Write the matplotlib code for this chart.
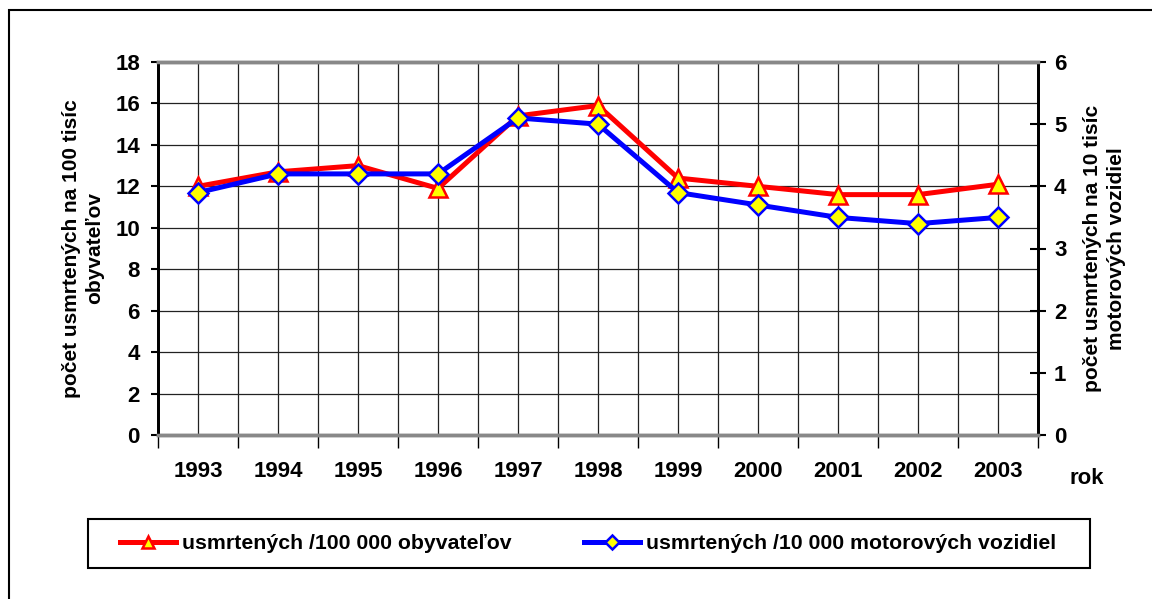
import matplotlib
matplotlib.use('Agg')
import matplotlib.pyplot as plt
from matplotlib.patches import Rectangle
import numpy as np

plt.rcParams['font.family'] = ['Liberation Sans', 'DejaVu Sans']
plt.rcParams['font.weight'] = 'bold'

roky = ['1993', '1994', '1995', '1996', '1997', '1998', '1999', '2000', '2001', '2002', '2003']
na_obyvatelov = [12.0, 12.7, 13.0, 11.9, 15.4, 15.9, 12.4, 12.0, 11.6, 11.6, 12.1]
na_vozidla = [3.9, 4.2, 4.2, 4.2, 5.1, 5.0, 3.9, 3.7, 3.5, 3.4, 3.5]

W, H = 1152, 599
fig = plt.figure(figsize=(W / 100, H / 100), dpi=100)
ax = fig.add_axes([158 / W, (H - 435) / H, 880 / W, 373 / H])
x = np.arange(len(roky))

# mriezka
ax.set_xlim(-0.5, len(roky) - 0.5)
ax.set_ylim(0, 18)
ax.set_yticks(range(0, 19, 2))
for gx in np.arange(-0.5, len(roky), 0.5):
    ax.axvline(gx, color='#222222', lw=0.9, zorder=1)
for gy in range(2, 18, 2):
    ax.axhline(gy, color='#222222', lw=0.9, zorder=1)

l1, = ax.plot(x, na_obyvatelov, color='#ff0000', lw=3.6, marker='^', ms=13,
              mfc='#ffff00', mec='#ff0000', mew=1.8, zorder=3)

ax2 = ax.twinx()
ax2.set_ylim(0, 6)
ax2.set_yticks(range(0, 7))
l2, = ax2.plot(x, na_vozidla, color='#0000ff', lw=3.6, marker='D', ms=10,
               mfc='#ffff00', mec='#0000ff', mew=1.8, zorder=3)

ax.set_xticks(x)
ax.set_xticklabels(roky)
ax.set_xticks(np.arange(-0.5, len(roky), 1), minor=True)
ax.tick_params(axis='x', which='major', length=0, pad=19, labelsize=16)
ax.tick_params(axis='x', which='minor', length=9, width=1, direction='out')
ax.tick_params(axis='y', length=5, width=1.5, pad=8, labelsize=16)
ax2.tick_params(axis='y', length=11, width=1.5, pad=6, labelsize=16, direction='inout')

for a in (ax, ax2):
    a.spines['top'].set_color('#888888')
    a.spines['top'].set_linewidth(2.5)
    a.spines['bottom'].set_color('#888888')
    a.spines['bottom'].set_linewidth(2.5)
    a.spines['left'].set_color('black')
    a.spines['left'].set_linewidth(2)
    a.spines['right'].set_color('black')
    a.spines['right'].set_linewidth(2)

ax.set_ylabel('počet usmrtených na 100 tisíc\nobyvateľov', fontsize=15, fontweight='bold',
              labelpad=8, linespacing=1.3)
ax2.set_ylabel('počet usmrtených na 10 tisíc\nmotorových vozidiel', fontsize=15, fontweight='bold',
               rotation=90, labelpad=12, linespacing=1.3)
fig.text(1087 / W, 1 - 478 / H, 'rok', fontsize=16, ha='center', va='center')

# legenda
leg_y = 1 - 543.5 / H
fig.legend([l1, l2], ['usmrtených /100 000 obyvateľov', 'usmrtených /10 000 motorových vozidiel'],
           loc='center left', bbox_to_anchor=(120 / W, leg_y), ncol=2,
           fontsize=15.3, frameon=False, borderpad=0, borderaxespad=0,
           handlelength=2.63, handletextpad=0.28, columnspacing=3.43,
           markerscale=0.7)
fig.patches.append(Rectangle((88 / W, 1 - 568 / H), 1002 / W, 49 / H, transform=fig.transFigure,
                             fill=False, edgecolor='black', lw=1.5))

fig.patches.append(Rectangle((9 / W, -0.05), 1.2, 1 - 10 / H + 0.05, transform=fig.transFigure,
                             fill=False, edgecolor='black', lw=1.5))

fig.savefig('out.png', dpi=100)
